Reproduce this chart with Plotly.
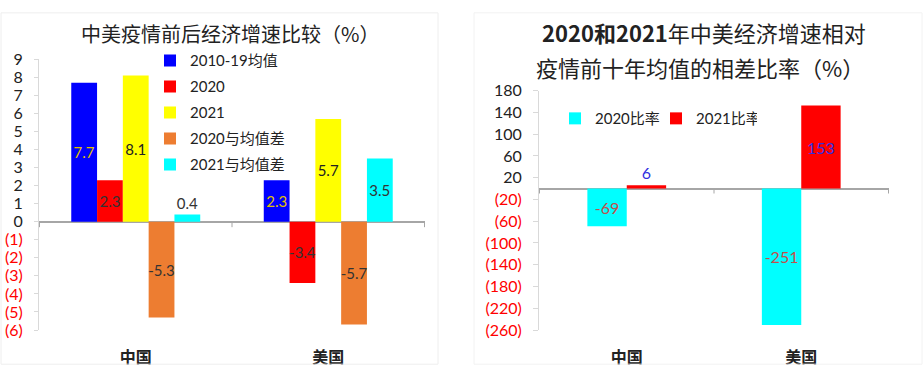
import plotly.graph_objects as go

# ---------- data ----------
countries = ["中国", "美国"]
left_series = ["2010-19均值", "2020", "2021", "2020与均值差", "2021与均值差"]
left_values = {
    "2010-19均值": [7.7, 2.3],
    "2020": [2.3, -3.4],
    "2021": [8.1, 5.7],
    "2020与均值差": [-5.3, -5.7],
    "2021与均值差": [0.4, 3.5],
}
left_colors = ["#0000FF", "#FF0000", "#FFFF00", "#ED7D31", "#00FFFF"]
left_label_colors = ["#E0C000", "#333333", "#222222", "#333333", "#333333"]

right_series = ["2020比率", "2021比率"]
right_values = {
    "2020比率": [-69, -251],
    "2021比率": [6, 153],
}
right_colors = ["#00FFFF", "#FF0000"]
right_label_colors = ["#C0504D", "#3030E0"]

left_ticks = [9, 8, 7, 6, 5, 4, 3, 2, 1, 0, -1, -2, -3, -4, -5, -6]
right_ticks = [180, 140, 100, 60, 20, -20, -60, -100, -140, -180, -220, -260]

FONT = "Lato, 'Noto Sans CJK SC', sans-serif"
CJK = "'Noto Sans CJK SC', sans-serif"


def tick_text(v):
    if v < 0:
        return "<span style='color:#FF0000'>(%d)</span>" % abs(v)
    return str(v)


fig = go.Figure()

for name, col, lc in zip(left_series, left_colors, left_label_colors):
    vals = left_values[name]
    pos = ["outside" if abs(v) < 1 else "inside" for v in vals]
    fig.add_trace(go.Bar(
        x=countries, y=vals, name=name, marker=dict(color=col, line=dict(width=0)),
        text=[f"{v:g}" for v in vals], textposition=pos, insidetextanchor="middle",
        textangle=0, constraintext="none",
        textfont=dict(color=lc, size=15, family=FONT), cliponaxis=False,
        xaxis="x", yaxis="y", legend="legend", legendgroup=name,
    ))

R_W = 0.2257
for i, (name, col, lc) in enumerate(zip(right_series, right_colors, right_label_colors)):
    vals = right_values[name]
    pos = ["outside" if abs(v) < 20 else "inside" for v in vals]
    fig.add_trace(go.Bar(
        x=countries, y=vals, name=name, marker=dict(color=col, line=dict(width=0)),
        text=[f"{v:g}" for v in vals], textposition=pos, insidetextanchor="middle",
        textangle=0, constraintext="none",
        width=R_W, offset=-R_W + i * R_W,
        textfont=dict(color=lc, size=16, family=FONT), cliponaxis=False,
        xaxis="x2", yaxis="y2", legend="legend2",
    ))

W, H = 924, 377
def px(x):
    return x / W
def py(y):
    return 1 - y / H

axis_common = dict(showgrid=False, zeroline=False, fixedrange=True)
cat_font = dict(family=CJK, size=16, color="#222222", weight=700)

fig.update_layout(
    width=W, height=H, margin=dict(l=0, r=0, t=0, b=0),
    paper_bgcolor="white", plot_bgcolor="white",
    font=dict(family=FONT, size=15, color="#222222"),
    barmode="group",
    showlegend=True,
    xaxis=dict(domain=[px(39), px(425)], anchor="y", showline=False, ticks="",
               tickfont=cat_font, ticklabelstandoff=16, **axis_common),
    yaxis=dict(domain=[py(337), py(52)], anchor="x", range=[-6, 9],
               tickvals=left_ticks, ticktext=[tick_text(v) for v in left_ticks],
               showline=True, linecolor="#D9D9D9", linewidth=1,
               ticks="outside", ticklen=4, tickcolor="#D9D9D9",
               ticklabelstandoff=8,
               tickfont=dict(size=16, color="#222222"),
               showgrid=False, zeroline=True, zerolinecolor="#A6A6A6", zerolinewidth=1.5,
               fixedrange=True),
    xaxis2=dict(domain=[px(539), px(889)], anchor="y2", showline=False, ticks="",
                tickfont=cat_font, ticklabelstandoff=16, **axis_common),
    yaxis2=dict(domain=[py(337), py(85)], anchor="x2", range=[-260, 180],
                tickvals=right_ticks, ticktext=[tick_text(v) for v in right_ticks],
                showline=True, linecolor="#D9D9D9", linewidth=1,
                ticks="outside", ticklen=5, tickcolor="#D9D9D9",
                ticklabelstandoff=8,
                tickfont=dict(size=16, color="#222222"),
                showgrid=False, zeroline=True, zerolinecolor="#A6A6A6", zerolinewidth=1.5,
                fixedrange=True),
    bargap=0.33, bargroupgap=0,
    legend=dict(x=px(150), y=py(36), xanchor="left", yanchor="top",
                orientation="v", traceorder="grouped", tracegroupgap=3.5,
                bgcolor="rgba(0,0,0,0)", font=dict(size=15, color="#222222"),
                itemclick=False, itemdoubleclick=False),
    legend2=dict(x=px(555), y=py(97), xanchor="left", yanchor="top",
                 orientation="h", bgcolor="rgba(0,0,0,0)",
                 entrywidth=56, entrywidthmode="pixels",
                 font=dict(size=15, color="#222222"),
                 itemclick=False, itemdoubleclick=False),
)

# titles
fig.add_annotation(text="中美疫情前后经济增速比较（%）", x=px(230), y=py(25),
                   xref="paper", yref="paper", xanchor="center", yanchor="middle",
                   showarrow=False, font=dict(family=CJK, size=20, color="#222222"))
fig.add_annotation(text="<b>2020和2021</b>年中美经济增速相对",
                   x=px(704), y=py(23), xref="paper", yref="paper",
                   xanchor="center", yanchor="middle", showarrow=False,
                   font=dict(family=CJK, size=22, color="#222222"))
fig.add_annotation(text="疫情前十年均值的相差比率（%）",
                   x=px(700), y=py(60), xref="paper", yref="paper",
                   xanchor="center", yanchor="middle", showarrow=False,
                   font=dict(family=CJK, size=22, color="#222222"))

# category-boundary tick marks on the zero line
for ax, ya, ln in (("x", "y", 0.3), ("x2", "y2", 9)):
    for b in (-0.5, 0.5, 1.5):
        fig.add_shape(type="line", xref=ax, yref=ya, x0=b, x1=b, y0=0, y1=-ln,
                      line=dict(color="#A6A6A6", width=1))

# faint panel borders
fig.add_shape(type="rect", xref="paper", yref="paper", x0=px(1), x1=px(438),
              y0=py(373), y1=py(3), line=dict(color="#EEEEEE", width=1))
fig.add_shape(type="rect", xref="paper", yref="paper", x0=px(474), x1=px(922),
              y0=py(373), y1=py(3), line=dict(color="#F2F2F2", width=1))

fig.write_html("out.html")
